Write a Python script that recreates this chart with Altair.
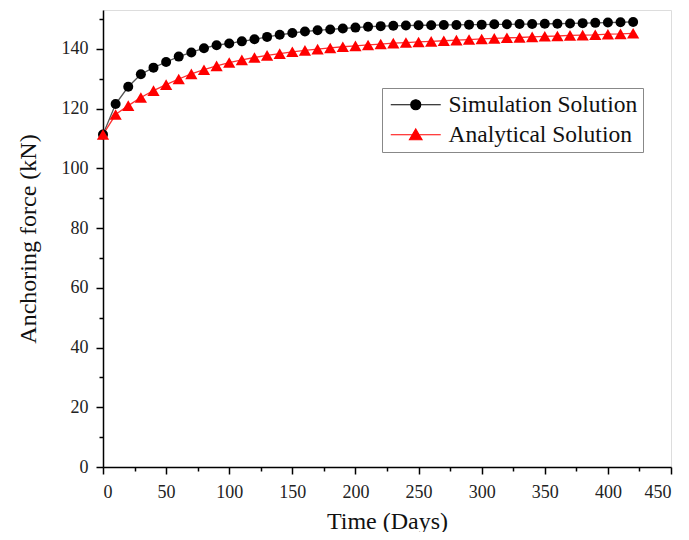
import altair as alt
import pandas as pd

days = list(range(0, 430, 10))
simulation = [111.3, 121.5, 127.3, 131.5, 133.7, 135.6, 137.4, 138.8, 140.2, 141.2,
              141.8, 142.5, 143.2, 144.0, 144.7, 145.3, 145.8, 146.2, 146.5, 146.8,
              147.1, 147.4, 147.6, 147.7, 147.8, 147.9, 147.9, 148.0, 148.0, 148.1,
              148.1, 148.2, 148.2, 148.3, 148.3, 148.4, 148.4, 148.5, 148.6, 148.7,
              148.8, 148.9, 149.0]
analytical = [111.3, 118.0, 121.0, 123.7, 126.0, 128.0, 129.9, 131.6, 133.0, 134.3,
              135.4, 136.3, 137.1, 137.8, 138.4, 139.0, 139.5, 139.9, 140.3, 140.7,
              141.0, 141.3, 141.6, 141.9, 142.1, 142.3, 142.5, 142.7, 142.9, 143.1,
              143.3, 143.5, 143.7, 143.8, 144.0, 144.2, 144.3, 144.5, 144.6, 144.7,
              144.9, 145.0, 145.2]
series = ["Simulation Solution", "Analytical Solution"]
x_ticks = list(range(0, 451, 25))
y_ticks = list(range(0, 151, 10))

df = pd.DataFrame({
    "day": days * 2,
    "force": simulation + analytical,
    "series": [series[0]] * len(days) + [series[1]] * len(days),
})

FONT = "Liberation Serif"

x_axis = alt.Axis(
    values=x_ticks, title="Time (Days)", grid=False,
    labelExpr="datum.value % 50 === 0 ? datum.label : ''",
    tickSize={"condition": {"test": "datum.value % 50 === 0", "value": 7}, "value": 4},
    labelFont=FONT, labelFontSize=18, labelPadding=9, labelColor="#222",
    titleFont=FONT, titleFontSize=24, titleFontWeight="normal", titlePadding=8, titleColor="#111",
    domainColor="#000", domainWidth=1.5, tickColor="#000", tickWidth=1.5,
)
y_axis = alt.Axis(
    values=y_ticks, title="Anchoring force (kN)", grid=False,
    labelExpr="datum.value % 20 === 0 ? datum.label : ''",
    tickSize={"condition": {"test": "datum.value % 20 === 0", "value": 7}, "value": 4},
    labelFont=FONT, labelFontSize=18, labelPadding=8, labelColor="#222",
    titleFont=FONT, titleFontSize=24, titleFontWeight="normal", titlePadding=21, titleColor="#111",
    domainColor="#000", domainWidth=1.5, tickColor="#000", tickWidth=1.5,
)

X = alt.X("day:Q", scale=alt.Scale(domain=[0, 450], nice=False), axis=x_axis)
Y = alt.Y("force:Q", scale=alt.Scale(domain=[0, 153], nice=False), axis=y_axis)

lines = alt.Chart(df).mark_line(strokeWidth=1.3).encode(
    x=X, y=Y,
    color=alt.Color("series:N", scale=alt.Scale(domain=series, range=["#555555", "#ff3030"]), legend=None),
    detail="series:N",
)

points = alt.Chart(df).mark_point(filled=True, opacity=1).encode(
    x=X, y=Y,
    color=alt.Color("series:N", scale=alt.Scale(domain=series, range=["#000000", "#ff0000"]), legend=None),
    shape=alt.Shape("series:N", scale=alt.Scale(domain=series, range=["circle", "triangle-up"]), legend=None),
    size=alt.Size("series:N", scale=alt.Scale(domain=series, range=[100, 150]), legend=None),
)

circle_path = "M-5,0H5M0,-1A1,1,0,1,1,0,1A1,1,0,1,1,0,-1Z"
tri_path = "M-5,0H5M0,-1.15L1.25,1.0L-1.25,1.0Z"

leg = alt.Legend(
    title=None, orient="none", legendX=279, legendY=78,
    labelFont=FONT, labelFontSize=23.5, labelColor="#111", labelLimit=400,
    symbolSize=100, symbolStrokeWidth=1.2, symbolOffset=17, labelOffset=21,
    strokeColor="#888", padding=5, rowPadding=5, symbolOpacity=1,
)

legend_layer = alt.Chart(df).mark_point(filled=False, opacity=1, size=100, strokeWidth=1.2).encode(
    x=X, y=Y,
    color=alt.Color("series:N", scale=alt.Scale(domain=series, range=["#000000", "#ff0000"]), legend=leg),
    fill=alt.Fill("series:N", scale=alt.Scale(domain=series, range=["#000000", "#ff0000"]), legend=leg),
    shape=alt.Shape("series:N", scale=alt.Scale(domain=series, range=[circle_path, tri_path]), legend=leg),
).transform_filter("false")

chart = alt.layer(lines, points, legend_layer).resolve_scale(
    color="independent", shape="independent", fill="independent", size="independent"
).properties(
    width=568, height=457,
    autosize=alt.AutoSizeParams(type="none"),
    padding={"left": 95, "top": 2, "right": 10, "bottom": 65},
).configure_view(stroke=None).configure(background="white")

chart.save("out.html", embed_options={"renderer": "svg", "actions": False})
